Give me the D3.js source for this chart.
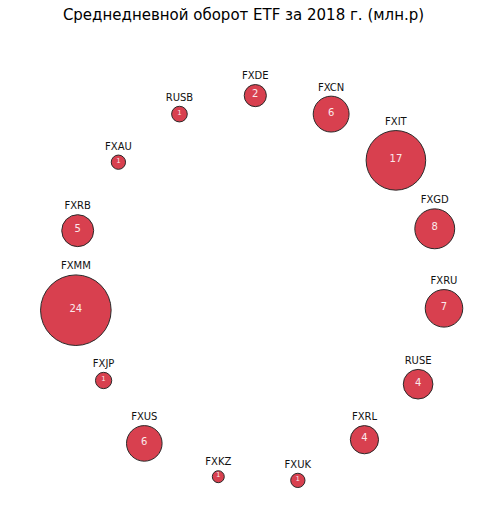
<!DOCTYPE html>
<html lang="ru">
  <head>
    <meta charset="UTF-8" />
    <title>Среднедневной оборот ETF за 2018 г.</title>
    <script src="https://d3js.org/d3.v7.min.js"></script>
    <style>
      * {
        margin: 0;
        padding: 0;
      }
      body {
        background: #fff;
        font-family: "DejaVu Sans", sans-serif;
      }
      .title {
        font-size: 15px;
        fill: #000;
      }
      .name {
        font-size: 10px;
        fill: #111;
      }
      .bubble {
        fill: #d8404f;
        stroke: #2a2a2a;
        stroke-width: 1;
      }
      .value {
        fill: #fbe9eb;
      }
    </style>
  </head>
  <body>
    <div id="chart"></div>
    <script>
      const tickers = [
        "FXDE", "FXCN", "FXIT", "FXGD", "FXRU", "RUSE", "FXRL", "FXUK",
        "FXKZ", "FXUS", "FXJP", "FXMM", "FXRB", "FXAU", "RUSB",
      ];
      // среднедневной оборот, млн руб.
      const turnover = [
        2.4, 6.3, 17.4, 7.8, 6.9, 4.3, 3.9, 1.0,
        0.7, 6.2, 1.3, 24.4, 5.0, 1.0, 1.2,
      ];
      // положение пузырьков (условные координаты)
      const posX = [
        -0.02, 0.39, 0.74, 0.95, 1.0, 0.86, 0.57, 0.21,
        -0.22, -0.62, -0.84, -0.99, -0.98, -0.76, -0.43,
      ];
      const posY = [
        1.04, 0.94, 0.69, 0.32, -0.11, -0.52, -0.82, -1.04,
        -1.02, -0.84, -0.5, -0.12, 0.31, 0.68, 0.94,
      ];

      const W = 487,
        H = 527;

      const data = tickers.map((t, i) => ({
        name: t,
        value: turnover[i],
        x: posX[i],
        y: posY[i],
      }));

      const svg = d3
        .select("#chart")
        .append("svg")
        .attr("width", W)
        .attr("height", H);

      const x = d3.scaleLinear().domain([-1, 1]).range([74, 444]);
      const y = d3.scaleLinear().domain([-1, 1]).range([473, 103]);
      const r = d3.scaleSqrt().domain([0, 24]).range([0, 35]);

      svg
        .append("text")
        .attr("class", "title")
        .attr("x", W / 2)
        .attr("y", 20)
        .attr("text-anchor", "middle")
        .text("Среднедневной оборот ETF за 2018 г. (млн.р)");

      const g = svg
        .selectAll(".item")
        .data(data)
        .enter()
        .append("g")
        .attr("class", "item")
        .attr("transform", (d) => `translate(${x(d.x)},${y(d.y)})`);

      g.append("circle")
        .attr("class", "bubble")
        .attr("r", (d) => r(d.value));

      g.append("text")
        .attr("class", "name")
        .attr("text-anchor", "middle")
        .attr("y", (d) => -r(d.value) - 9)
        .attr("dy", "0.35em")
        .text((d) => d.name);

      g.append("text")
        .attr("class", "value")
        .attr("text-anchor", "middle")
        .attr("y", -2)
        .attr("dy", "0.35em")
        .style("font-size", (d) => (r(d.value) >= 10 ? "10px" : "7px"))
        .text((d) => Math.round(d.value));
    </script>
  </body>
</html>
